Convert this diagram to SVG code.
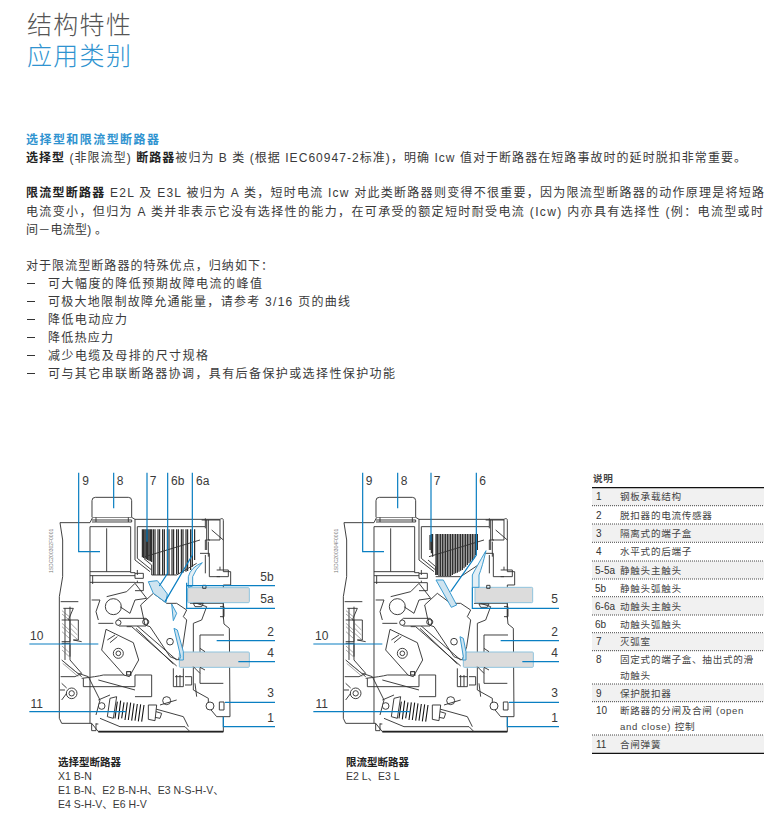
<svg xmlns="http://www.w3.org/2000/svg" xmlns:xlink="http://www.w3.org/1999/xlink" width="775" height="817" viewBox="0 0 775 817">
<style>
text{font-family:"Liberation Sans","Noto Sans CJK SC",sans-serif;fill:#3a3a3a}
.b{font-size:12px}
.bb{font-weight:700;fill:#222}
.t{font-size:25px;font-family:"Noto Sans CJK SC",sans-serif;font-weight:300;letter-spacing:1.3px}
.n{font-size:12px;text-anchor:middle}
.c{font-size:10.5px}
.l{font-size:9.6px;letter-spacing:.7px;fill:#444}
.ln{font-size:10px;fill:#333}
.m{fill:none;stroke:#333;stroke-width:2.8;stroke-linejoin:round}
.mf{fill:#fff;stroke:#333;stroke-width:2.8;stroke-linejoin:round}
.mt{fill:none;stroke:#666;stroke-width:1.8}
.hv{fill:none;stroke:#222;stroke-width:5}
.p{fill:none;stroke:#111;stroke-width:3.2}
.bar{fill:#dcdcdc;stroke:#8fc3dd;stroke-width:3}
.ct{fill:#cfe4f0;stroke:#3a9bd0;stroke-width:3;stroke-linejoin:round}
.ld{fill:none;stroke:#0a7fc2;stroke-width:3.6}
.row{fill:#f1f1f1}
.dot{stroke:#333;stroke-width:.9;stroke-dasharray:1 1}
.rule{stroke:#111;stroke-width:1.2}
.code{font-size:5px;fill:#777}
</style>
<defs>
<g id="mech">
<path class="mf" d="M120,188H210L218,172H335L345,178H600Q610,172 610,182V335H632V375H610V470L612,492L628,505L630,770H610V815H235L215,790H125L118,775V410L128,350V240Z"/>
<path class="hv" d="M235,815H610"/>
<path class="mf" d="M216,172V122Q216,112 226,112H325Q335,112 335,122V172"/>
<path class="m" d="M216,180H335V186H216M210,200H332V338M210,200V790M260,205V335M210,335H332M210,347H345M210,367H345M218,347V372M345,178V300L390,335M352,200H555M352,200V295L395,330M228,172V186M325,172V186"/>
<path class="m" d="M332,338H345V355H370V340H345M345,368H370V392H345M352,330V345M352,362V368"/>
<path class="m" d="M545,180H600V240H565V180M565,245V290M540,280H568V350H600M560,180V270M610,240L575,210M590,330H625V350H590M600,330V320M556,175V205M570,240H556V270M556,285V340"/>
<path class="m" d="M122,425H175M130,445H160L145,480H175V540H160L185,545M125,480H150V545H125M125,550H150V600L185,640M125,600L185,650M122,650H165L185,640M150,440V590M135,445V600"/>
<path class="mt" d="M126,452L148,470M126,462L148,480M126,490L148,510M126,500L148,520M126,515L148,535M126,558L148,578M126,570L148,590M128,610L175,650M135,610L180,645M152,490L172,510M152,505L172,525M152,520L172,538"/>
<path class="m" d="M175,640L205,650L240,720L228,765M120,690H135M185,655Q230,650 250,645H335"/>
<circle class="mf" cx="155" cy="700" r="16"/><circle class="m" cx="155" cy="700" r="8"/>
<path class="m" d="M190,655V680H345V645M125,670L140,684M125,720L140,700"/>
<circle class="mf" cx="280" cy="440" r="24"/>
<path class="m" d="M215,420H240L228,455L235,480M260,410L320,395L345,370M235,490L280,490M300,440L330,460L345,420L380,415M380,415L345,370"/>
<path class="m" d="M320,500L335,500L470,618M345,492L470,600M348,505L460,612"/>
<path class="mf" d="M298,475H378Q395,485 378,498H298Q280,488 298,475Z"/>
<circle class="mf" cx="295" cy="488" r="8"/><circle class="mf" cx="376" cy="486" r="8"/>
<path class="mf" d="M258,508L340,548L356,600L328,650L312,645L245,570Z"/>
<circle class="m" cx="295" cy="580" r="15"/><circle class="m" cx="295" cy="580" r="7"/>
<path class="m" d="M262,540L285,525M270,548L292,530"/><rect class="hv" x="320" y="635" width="12" height="10" style="stroke-width:3"/>
<path class="m" d="M362,435L400,400L440,430L470,430L500,450L490,470L500,480L488,560L475,600L450,590L390,500L375,495Z"/>
<circle class="m" cx="450" cy="545" r="10"/>
<path class="m" d="M345,645H395V710H345M235,660L345,690M235,720L270,705"/>
<path class="m" d="M460,625V680H490V625M495,650H515V675H495M465,650H490M470,645V680M480,645V680"/>
<path class="m" d="M520,490V690L565,715V740L590,770H610M540,525H612M540,525V670H610M525,670L530,710"/>
<path class="m" d="M530,430L560,440L545,480L520,490M510,430H610V475M600,440H612V470H600"/>
<circle class="mf" cx="570" cy="738" r="12"/><rect class="m" x="598" y="726" width="14" height="24"/>
<circle class="mf" cx="245" cy="738" r="10"/><circle class="mf" cx="440" cy="722" r="12"/>
<path class="m" d="M215,790V812H228V790M228,792H235M240,775L300,800H495L510,815M400,745L490,770L505,800M420,735L470,720"/>
<path class="mf" d="M270,715L290,710L280,775L262,770ZM385,735L410,735L405,782L385,778Z"/>
<path class="p" d="M292,725L285,775M302,722L295,778M312,727L305,775M322,727L315,780M332,728L325,780M342,730L335,782M352,732L345,782M362,733L355,784M372,735L365,785"/>
<path class="m" d="M408,755L425,760L420,775L405,772"/>
<rect class="bar" x="478" y="576" width="210" height="46" rx="3"/>
<path class="m" d="M520,620L540,640M540,565L555,575M540,622L555,630"/>
</g>
</defs>

<g id="header">
<text class="t" x="27" y="34" style="fill:#555">结构特性</text>
<text class="t" x="27" y="65" style="fill:#2f93d0">应用类别</text>
</g>

<g id="body-text">
<text class="b" x="26" y="144" textLength="133" style="fill:#2f93d0;font-weight:700">选择型和限流型断路器</text>
<text class="b" x="26" y="162" textLength="720"><tspan class="bb">选择型</tspan> (非限流型) <tspan class="bb">断路器</tspan>被归为 B 类 (根据 IEC60947-2标准)，明确 Icw 值对于断路器在短路事故时的延时脱扣非常重要。</text>
<text class="b" x="26" y="197" textLength="738"><tspan class="bb">限流型断路器</tspan> E2L 及 E3L 被归为 A 类，短时电流 Icw 对此类断路器则变得不很重要，因为限流型断路器的动作原理是将短路</text>
<text class="b" x="26" y="215.5" textLength="737">电流变小，但归为 A 类并非表示它没有选择性的能力，在可承受的额定短时耐受电流 (Icw) 内亦具有选择性 (例：电流型或时</text>
<text class="b" x="26" y="234" textLength="81">间－电流型) 。</text>
<text class="b" x="26" y="269.5" textLength="247">对于限流型断路器的特殊优点，归纳如下：</text>
<g id="bullets">
<path d="M27,283.5h8M27,301.5h8M27,319.5h8M27,337.5h8M27,355.5h8M27,373.5h8" stroke="#333" stroke-width="1"/>
<text class="b" x="48" y="288" textLength="214">可大幅度的降低预期故障电流的峰值</text>
<text class="b" x="48" y="306" textLength="302">可极大地限制故障允通能量，请参考 3/16 页的曲线</text>
<text class="b" x="48" y="324" textLength="79">降低电动应力</text>
<text class="b" x="48" y="342" textLength="65">降低热应力</text>
<text class="b" x="48" y="360" textLength="160">减少电缆及母排的尺寸规格</text>
<text class="b" x="48" y="378" textLength="347">可与其它串联断路器协调，具有后备保护或选择性保护功能</text>
</g>
</g>

<g id="breaker-selective">
<g transform="translate(20,460) scale(.33333)">
<use xlink:href="#mech" href="#mech"/>
<path class="p" d="M367,208V292M371,208V294M375,208V296M379,208V298M383,208V300M387,208V302M391,208V304M395,208V306M400,208V345M405,208V345M414,208V345M419,208V345M428,208V345M433,208V345M442,208V345M447,208V345M456,208V345M461,208V345M470,208V343M475,208V342M484,208V340M489,208V338M498,208V335M503,208V333M512,208V330M517,208V320M524,208V300"/>
<path class="m" d="M375,290L540,240M372,296L395,315V345M395,345H470L530,310"/>
<path class="ct" d="M385,365L412,362L442,402L438,428L400,400Z"/>
<path class="ct" d="M455,432L470,460L460,482Z"/>
<path class="ct" d="M462,505L472,510L490,575V600H478L482,590Z"/>
<rect class="bar" x="503" y="383" width="185" height="45" rx="3"/>
<path class="ct" style="fill:#e4eff5" d="M505,382V350Q512,322 547,308Q525,330 518,350V378Z"/>
<path class="m" d="M548,376h10v9h-10z"/>
<path class="m" d="M520,430H550L545,440H525Z"/>
</g>
<text class="code" transform="translate(53,573) rotate(-90)">1SDC200302F0001</text>
</g>

<g id="breaker-limiting">
<g transform="translate(304,460) scale(.33333)">
<use xlink:href="#mech" href="#mech"/>
<path class="p" d="M378,225V270M382,222V280M386,222V290M396,222V345M400,222V345M405,222V348M410,222V348M415,222V348M420,222V348M425,222V348M430,222V348M435,222V348M440,222V348M445,222V345M450,222V342M455,222V340M460,222V338M465,222V335M470,222V332M475,222V330M480,222V325M485,222V320M490,222V315M495,222V310M500,222V305M505,222V300M510,222V295M515,222V285M520,222V270"/>
<path class="m" d="M375,290L540,240M372,300L395,320V345M395,350H470L530,310"/>
<path class="ct" d="M396,360L418,360L458,435L442,442Z"/>
<path class="ct" d="M468,530L478,535L486,575V600H476L478,590Z"/>
<rect class="bar" x="513" y="382" width="173" height="46" rx="3"/>
<path class="ct" style="fill:#e4eff5" d="M505,382V345Q515,325 546,272Q535,320 525,345V382Z"/>
<path class="m" d="M548,376h10v9h-10z"/>
<path class="m" d="M525,432H555L550,442H530Z"/>
</g>
<text class="code" transform="translate(338,573) rotate(-90)">1SDC200304F0001</text>
</g>

<g id="connectors">
<g transform="translate(20,460) scale(.33333)">
<path class="ld" d="M176,38V275H240M281,38V145M381,38V245M443,38V340L418,378M517,38V285L435,425M765,377H500V385M765,445H500V368M28,552H235M28,755H318M765,542H590M765,605H655M765,727H615M765,800H610V770"/>
</g>
<g transform="translate(304,460) scale(.33333)">
<path class="ld" d="M176,38V275H240M281,38V145M381,38V245M517,38V285L440,395M765,445H505V382M28,552H235M28,755H318M765,542H590M765,605H655M765,727H615M765,800H610V770"/>
</g>
</g>

<g id="labels">
<text class="n" x="85.7" y="485">9</text><text class="n" x="120" y="485">8</text><text class="n" x="153" y="485">7</text><text class="n" x="177.7" y="485">6b</text><text class="n" x="202.7" y="485">6a</text>
<text class="n" x="267" y="581">5b</text><text class="n" x="267" y="603">5a</text><text class="n" x="270.7" y="636">2</text><text class="n" x="270.7" y="657">4</text><text class="n" x="270.7" y="697">3</text><text class="n" x="270.7" y="722">1</text>
<text class="n" x="36.7" y="640">10</text><text class="n" x="36.7" y="708">11</text>
<text class="n" x="369" y="485">9</text><text class="n" x="404" y="485">8</text><text class="n" x="437" y="485">7</text><text class="n" x="482.7" y="485">6</text>
<text class="n" x="554.7" y="603">5</text><text class="n" x="554.7" y="636">2</text><text class="n" x="554.7" y="657">4</text><text class="n" x="554.7" y="697">3</text><text class="n" x="554.7" y="722">1</text>
<text class="n" x="321.7" y="640">10</text><text class="n" x="321.7" y="708">11</text>
</g>

<g id="captions">
<text class="c bb" x="58" y="766">选择型断路器</text>
<text class="c" x="58" y="780">X1 B-N</text>
<text class="c" x="58" y="794">E1 B-N、E2 B-N-H、E3 N-S-H-V、</text>
<text class="c" x="58" y="808">E4 S-H-V、E6 H-V</text>
<text class="c bb" x="346" y="766">限流型断路器</text>
<text class="c" x="346" y="780">E2 L、E3 L</text>
</g>

<g id="legend">
<text class="l bb" x="593" y="482">说明</text>
<rect class="row" x="592" y="488" width="172" height="18"/>
<rect class="row" x="592" y="524" width="172" height="18"/>
<rect class="row" x="592" y="561" width="172" height="18"/>
<rect class="row" x="592" y="597" width="172" height="18"/>
<rect class="row" x="592" y="633" width="172" height="18"/>
<rect class="row" x="592" y="684" width="172" height="18"/>
<rect class="row" x="592" y="735" width="172" height="18"/>
<path class="rule" d="M592,487.7H764M592,753.3H764"/>
<path class="dot" d="M592,505.7H764M592,524H764M592,542.3H764M592,561H764M592,579H764M592,596.7H764M592,615H764M592,632.7H764M592,650.7H764M592,684H764M592,701.7H764M592,735H764"/>
<text class="ln" x="596" y="500">1</text><text class="l" x="620" y="500">钢板承载结构</text>
<text class="ln" x="596" y="518.5">2</text><text class="l" x="620" y="518.5">脱扣器的电流传感器</text>
<text class="ln" x="596" y="537">3</text><text class="l" x="620" y="537">隔离式的端子盒</text>
<text class="ln" x="596" y="555">4</text><text class="l" x="620" y="555">水平式的后端子</text>
<text class="ln" x="595" y="573.5">5-5a</text><text class="l" x="620" y="573.5">静触头主触头</text>
<text class="ln" x="595" y="591.5">5b</text><text class="l" x="620" y="591.5">静触头弧触头</text>
<text class="ln" x="595" y="609.5">6-6a</text><text class="l" x="620" y="609.5">动触头主触头</text>
<text class="ln" x="595" y="627.5">6b</text><text class="l" x="620" y="627.5">动触头弧触头</text>
<text class="ln" x="596" y="645">7</text><text class="l" x="620" y="645">灭弧室</text>
<text class="ln" x="596" y="663">8</text><text class="l" x="620" y="663">固定式的端子盒、抽出式的滑</text>
<text class="l" x="620" y="679">动触头</text>
<text class="ln" x="596" y="697">9</text><text class="l" x="620" y="697">保护脱扣器</text>
<text class="ln" x="596" y="713.5">10</text><text class="l" x="620" y="713.5">断路器的分闸及合闸 (open</text>
<text class="l" x="620" y="730">and close) 控制</text>
<text class="ln" x="596" y="748">11</text><text class="l" x="620" y="748">合闸弹簧</text>
</g>
</svg>
